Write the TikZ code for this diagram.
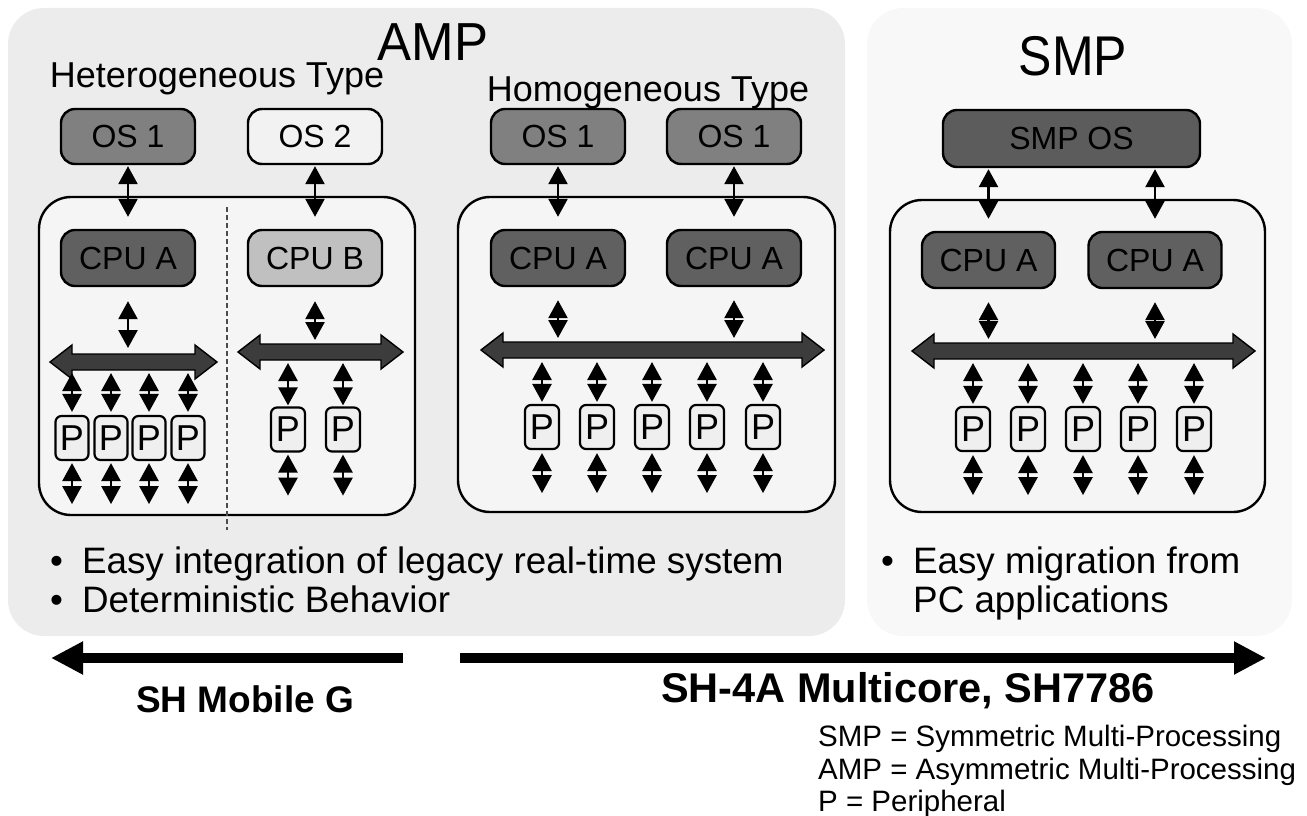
\documentclass[tikz,border=0pt]{standalone}
\usepackage{fontspec}
\usepackage{graphicx}
\setmainfont{Liberation Sans}
\usetikzlibrary{arrows.meta,calc}

\newcommand\fsz[1]{\fontsize{#1}{#1}\selectfont}

\definecolor{ampbg}{HTML}{ECECEC}
\definecolor{smpbg}{HTML}{F8F8F8}
\definecolor{boxbg}{HTML}{F5F5F5}
\definecolor{osgray}{HTML}{808080}
\definecolor{cpugray}{HTML}{606060}
\definecolor{cpub}{HTML}{C0C0C0}
\definecolor{oswhite}{HTML}{F2F2F2}
\definecolor{smpos}{HTML}{5C5C5C}
\definecolor{busgray}{HTML}{3C3C3C}
\definecolor{pfill}{HTML}{EFEFEF}

% double-headed bus bar drawn round a named node
\newcommand\drawbus[1]{%
  \draw[line width=1.4pt, fill=busgray, line join=miter]
    (#1.west) -- ++(22,-17) -- ++(0,9) -- ($(#1.east)+(-22,-8)$) -- ++(0,-9)
    -- (#1.east) -- ++(-22,17) -- ++(0,-9) -- ($(#1.west)+(22,8)$) -- ++(0,9) -- cycle;}

\begin{document}
\begin{tikzpicture}[x=1pt,y=-1pt,
  panel/.style={fill=#1, draw=none, rounded corners=36pt},
  frame/.style={draw, line width=2.4pt, fill=boxbg, rounded corners=32pt},
  chip/.style={draw, line width=2.4pt, rounded corners=14pt, fill=#1,
    minimum width=134pt, minimum height=55pt, inner sep=0pt, font=\fsz{32}},
  periph/.style={draw, line width=2.2pt, rounded corners=6pt, fill=pfill,
    minimum width=34pt, minimum height=44pt, inner sep=0pt, font=\fsz{36}},
  busbar/.style={minimum height=16pt, minimum width=#1, inner sep=0pt, outer sep=0pt},
  link/.style={line width=2.6pt, {Triangle[width=19pt,length=18pt]}-{Triangle[width=19pt,length=18pt]}},
  bigarrow/.style={line width=10pt, -{Triangle[width=31pt,length=32pt]}},
  title/.style={anchor=base, inner sep=0pt},
  bullet/.style={anchor=base west, inner sep=0pt, font=\fsz{36.8}},
  legend/.style={anchor=base west, inner sep=0pt, font=\fsz{29.5}},
]
\useasboundingbox (0,0) rectangle (1307,816);

% background panels
\fill[panel=ampbg] (8,8) rectangle (845,636);
\fill[panel=smpbg] (867,8) rectangle (1292,636);

% titles
\node[title, font=\fsz{51}] (tamp) at (433,60) {\scalebox{1}[1.05]{AMP}};
\node[title, font=\fsz{36}] (thet) at (217,88) {Heterogeneous Type};
\node[title, font=\fsz{36}] (thom) at (648,101) {Homogeneous Type};
\node[title, font=\fsz{50}] (tsmp) at (1073,75) {\scalebox{1}[1.12]{SMP}};

% processor frames
\draw[frame] (39,197) rectangle (415,515);
\draw[frame] (458,197) rectangle (835,512);
\draw[frame] (890,200) rectangle (1265,512);
\draw[dashed, line width=1.2pt, draw=black!70, dash pattern=on 5pt off 3pt] (227,207) -- (227,530);

% ---------- heterogeneous ----------
\node[chip=osgray] (hos1) at (128,136.5) {OS 1};
\node[chip=oswhite] (hos2) at (315,136.5) {OS 2};
\node[chip=cpugray, minimum height=56pt] (hcpuA) at (128,258) {CPU A};
\node[chip=cpub, minimum height=56pt] (hcpuB) at (315,258) {CPU B};
\draw[link] ([yshift=-1pt]hos1.south) -- ([yshift=12pt]hcpuA.north);
\draw[link] ([yshift=-1pt]hos2.south) -- ([yshift=12pt]hcpuB.north);

\node[busbar=167pt] (busL) at (133.5,362) {};
\node[busbar=165pt] (busR) at (320.5,352) {};
\drawbus{busL}
\drawbus{busR}
\draw[link] ([yshift=-14pt]hcpuA.south) -- ([yshift=6pt]hcpuA.south |- busL.north);
\draw[link] ([yshift=-14pt]hcpuB.south) -- ([yshift=4pt]hcpuB.south |- busR.north);

\foreach \i/\x in {1/72,2/111,3/149,4/188}{
  \node[periph, minimum width=33pt] (hl\i) at (\x,438) {P};
  \draw[link] ([yshift=-3pt]hl\i.north |- busL.south) -- ([yshift=3pt]hl\i.north);
  \draw[link] ([yshift=-2pt]hl\i.south) -- ([yshift=-43pt]hl\i.south);
}
\foreach \i/\x in {1/288,2/343}{
  \node[periph] (hr\i) at (\x,429.5) {P};
  \draw[link] ([yshift=-3pt]hr\i.north |- busR.south) -- ([yshift=1pt]hr\i.north);
  \draw[link] ([yshift=-2pt]hr\i.south) -- ([yshift=-43pt]hr\i.south);
}

% ---------- homogeneous ----------
\node[chip=osgray] (mos1) at (558,136.5) {OS 1};
\node[chip=osgray] (mos2) at (734,136.5) {OS 1};
\node[chip=cpugray, minimum height=56pt] (mcpu1) at (558,258) {CPU A};
\node[chip=cpugray, minimum height=56pt] (mcpu2) at (734,258) {CPU A};
\draw[link] ([yshift=-1pt]mos1.south) -- ([yshift=12pt]mcpu1.north);
\draw[link] ([yshift=-1pt]mos2.south) -- ([yshift=12pt]mcpu2.north);

\node[busbar=343pt] (busM) at (652.5,350) {};
\drawbus{busM}
\draw[link] ([yshift=-13pt]mcpu1.south) -- ([yshift=4pt]mcpu1.south |- busM.north);
\draw[link] ([yshift=-13pt]mcpu2.south) -- ([yshift=4pt]mcpu2.south |- busM.north);

\foreach \i/\x in {1/542,2/597,3/652,4/707,5/763}{
  \node[periph] (mp\i) at (\x,427) {P};
  \draw[link] ([yshift=-4pt]mp\i.north |- busM.south) -- ([yshift=2pt]mp\i.north);
  \draw[link] ([yshift=-3pt]mp\i.south) -- ([yshift=-43pt]mp\i.south);
}

% ---------- SMP ----------
\node[chip=smpos, minimum width=257pt, minimum height=57pt] (sos) at (1071.5,138.5) {SMP OS};
\node[chip=cpugray, minimum width=133pt, minimum height=56pt] (scpu1) at (988.5,260) {CPU A};
\node[chip=cpugray, minimum width=133pt, minimum height=56pt] (scpu2) at (1155,260) {CPU A};
\draw[link] ([yshift=-1pt]sos.south -| scpu1.north) -- ([yshift=12pt]scpu1.north);
\draw[link] ([yshift=-1pt]sos.south -| scpu2.north) -- ([yshift=12pt]scpu2.north);

\node[busbar=343pt] (busS) at (1083.5,351) {};
\drawbus{busS}
\draw[link] ([yshift=-13pt]scpu1.south) -- ([yshift=4pt]scpu1.south |- busS.north);
\draw[link] ([yshift=-13pt]scpu2.south) -- ([yshift=4pt]scpu2.south |- busS.north);

\foreach \i/\x in {1/973,2/1028,3/1083,4/1138,5/1194}{
  \node[periph] (sp\i) at (\x,429) {P};
  \draw[link] ([yshift=-4pt]sp\i.north |- busS.south) -- ([yshift=2pt]sp\i.north);
  \draw[link] ([yshift=-3pt]sp\i.south) -- ([yshift=-43pt]sp\i.south);
}

% bullet lists
\node[bullet] (b1) at (50,573) {•\hspace{19pt}Easy integration of legacy real-time system};
\node[bullet] (b2) at (50,612) {•\hspace{19pt}Deterministic Behavior};
\node[bullet] (b3) at (881,573) {•\hspace{19pt}Easy migration from};
\node[bullet] (b4) at (913,612) {PC applications};

% product range arrows
\coordinate (lstart) at (403,658);
\coordinate (lend) at (51,658);
\coordinate (rstart) at (460,658);
\coordinate (rend) at (1266,658);
\draw[bigarrow] (lstart) -- (lend);
\draw[bigarrow] (rstart) -- (rend);
\node[title, font=\bfseries\fsz{37}] (mob) at (245,712) {SH Mobile G};
\node[title, font=\bfseries\fsz{41.5}] (sh4) at (908,702) {SH-4A Multicore, SH7786};

% legend
\node[legend] (l1) at (818,746) {SMP = Symmetric Multi-Processing};
\node[legend] (l2) at (818,779) {AMP = Asymmetric Multi-Processing};
\node[legend] (l3) at (818,811) {P = Peripheral};
\end{tikzpicture}
\end{document}
